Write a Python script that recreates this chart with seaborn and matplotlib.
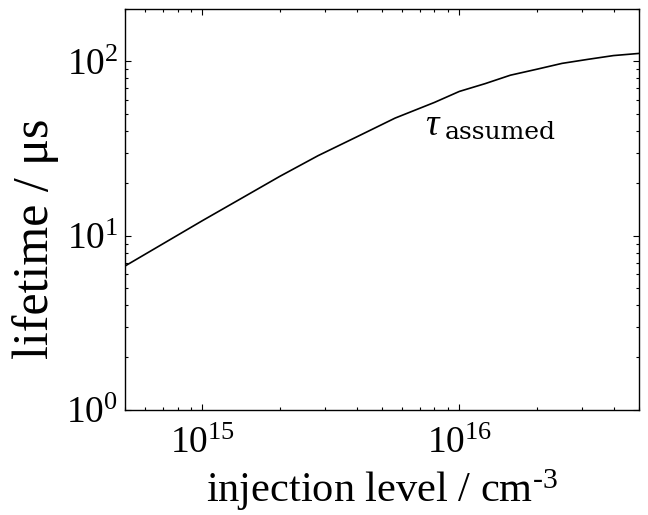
import matplotlib
matplotlib.use("Agg")
import matplotlib.pyplot as plt
import seaborn as sns
import pandas as pd
from matplotlib.ticker import LogLocator, NullFormatter

# Assumed effective lifetime versus injection level
injection = [5e14, 1e15, 1.41e15, 2e15, 2.82e15, 4e15, 5.62e15, 8e15,
             1e16, 1.26e16, 1.58e16, 2e16, 2.51e16, 3.16e16, 3.98e16, 5e16]
lifetime_us = [6.70, 12.2, 16.3, 21.9, 28.8, 37.0, 47.3, 58.2,
               67.3, 74.6, 83.4, 90.2, 97.5, 102.8, 108.1, 111.2]

x_limits = (5e14, 5e16)
y_limits = (1, 200)

sns.set_theme(style="ticks")
plt.rcParams["font.family"] = ["Liberation Serif", "DejaVu Serif"]
plt.rcParams["mathtext.fontset"] = "custom"
plt.rcParams["mathtext.rm"] = "Liberation Serif"
plt.rcParams["mathtext.it"] = "Liberation Serif:italic"
plt.rcParams["axes.unicode_minus"] = False
for key in ("text.color", "axes.labelcolor", "xtick.color", "ytick.color",
            "axes.edgecolor"):
    plt.rcParams[key] = "black"

df = pd.DataFrame({"injection": injection, "lifetime": lifetime_us})

fig = plt.figure(figsize=(6.48, 5.15), dpi=100)
ax = fig.add_axes([0.193, 0.204, 0.793, 0.7785])

sns.lineplot(data=df, x="injection", y="lifetime", ax=ax,
             color="black", linewidth=1.2)

ax.set_xscale("log")
ax.set_yscale("log")
ax.set_xlim(*x_limits)
ax.set_ylim(*y_limits)

ax.xaxis.set_major_locator(LogLocator(base=10))
ax.xaxis.set_minor_locator(LogLocator(base=10, subs=range(2, 10)))
ax.yaxis.set_major_locator(LogLocator(base=10))
ax.yaxis.set_minor_locator(LogLocator(base=10, subs=range(2, 10)))
ax.xaxis.set_minor_formatter(NullFormatter())
ax.yaxis.set_minor_formatter(NullFormatter())

for side in ax.spines.values():
    side.set_linewidth(1.0)
    side.set_color("black")

ax.tick_params(which="both", direction="in", top=True, right=True,
               color="black", width=0.8)
ax.tick_params(which="major", length=4, labelsize=27, labelcolor="black")
ax.tick_params(which="minor", length=2.5)
ax.tick_params(axis="x", which="major", pad=12)
ax.tick_params(axis="y", which="major", pad=5)

ax.set_xlabel(r"injection level / cm$^{\text{-}3}$", fontsize=30.5, labelpad=4)
ax.set_ylabel("lifetime / μs", fontsize=36)
ax.yaxis.set_label_coords(-0.128, 0.426)

ax.text(0.584, 0.686, r"$\tau$", transform=ax.transAxes,
        fontsize=27, family="DejaVu Serif", va="baseline", ha="left")
ax.text(0.622, 0.676, "assumed", transform=ax.transAxes,
        fontsize=18, family="DejaVu Serif", va="baseline", ha="left")

fig.savefig("out.png", dpi=100, facecolor="white")
